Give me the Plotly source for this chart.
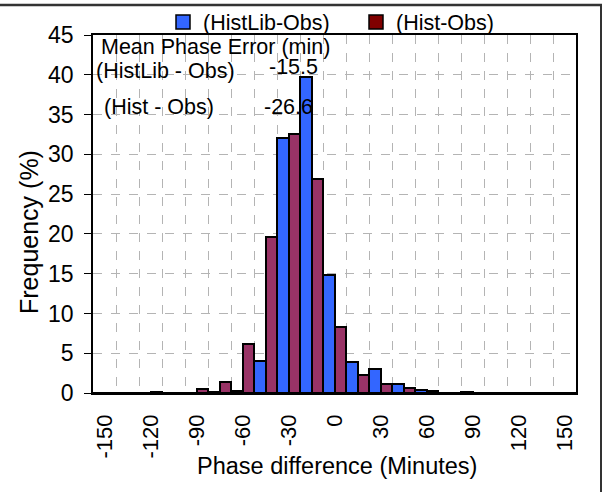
import plotly.graph_objects as go

# ---- data ----
categories = [-150, -135, -120, -105, -90, -75, -60, -45, -30, -15, 0, 15, 30, 45, 60, 75, 90, 105, 120, 135, 150]
histlib_obs = [0, 0, 0, 0, 0, 0.1, 0.3, 4.0, 32.1, 39.7, 14.8, 3.9, 3.0, 1.1, 0.4, 0, 0.1, 0, 0, 0, 0]
hist_obs = [0, 0, 0.15, 0, 0.45, 1.35, 6.2, 19.6, 32.6, 26.9, 8.3, 2.3, 1.1, 0.65, 0.3, 0, 0, 0, 0, 0, 0]
x_tick_vals = [-150, -120, -90, -60, -30, 0, 30, 60, 90, 120, 150]
x_tick_text = ["-150", "-120", "-90", "-60", "-30", "0", "30", "60", "90", "120", "150"]
y_tick_vals = [0, 5, 10, 15, 20, 25, 30, 35, 40, 45]
series_names = ["(HistLib-Obs)", "(Hist-Obs)"]
mean_errors = ["-15.5", "-26.6"]

FONT = "Liberation Sans, Arial, sans-serif"
BLUE = "#3366FF"
PLUM = "#993366"
MAROON = "#800000"

fig = go.Figure()
fig.add_trace(go.Bar(x=categories, y=histlib_obs, name=series_names[0], marker=dict(color=BLUE, line=dict(color="black", width=2)), showlegend=False))
fig.add_trace(go.Bar(x=categories, y=hist_obs, name=series_names[1], marker=dict(color=PLUM, line=dict(color="black", width=2)), showlegend=False))
# legend entries
fig.add_trace(go.Scatter(x=[None], y=[None], mode="markers", name=series_names[0],
                         marker=dict(symbol="square", size=14, color=BLUE, line=dict(color="black", width=1.5))))
fig.add_trace(go.Scatter(x=[None], y=[None], mode="markers", name=series_names[1],
                         marker=dict(symbol="square", size=14, color=MAROON, line=dict(color="black", width=1.5))))

L, R, T, B = 93, 32, 35, 99
W, H = 608, 492
pw, ph = W - L - R, H - T - B

def px(x):
    return (x - L) / pw

def py(y):
    return (H - B - y) / ph

fig.update_layout(
    width=W, height=H,
    margin=dict(l=L, r=R, t=T, b=B, autoexpand=False),
    paper_bgcolor="white", plot_bgcolor="white",
    font=dict(family=FONT, size=21.5, color="black"),
    barmode="group", bargap=0, bargroupgap=0,
    legend=dict(orientation="h", x=px(163), xanchor="left", y=py(22), yanchor="middle",
                entrywidth=148, bgcolor="rgba(0,0,0,0)", font=dict(size=21.5)),
    xaxis=dict(range=[-157.5, 157.5], tickmode="array", tickvals=x_tick_vals, ticktext=x_tick_text,
               tickangle=-90, ticks="", showgrid=False, zeroline=False,
               showline=True, linecolor="black", linewidth=1.5, mirror=True,
               ticklabelstandoff=11, tickfont=dict(size=22),
               minor=dict(tick0=-157.5, dtick=15, showgrid=True, gridcolor="#b4b4b4",
                          griddash="dash", gridwidth=1, ticks="")),
    yaxis=dict(range=[0, 45], tickmode="array", tickvals=y_tick_vals,
               ticks="outside", ticklen=7, tickcolor="black", tickwidth=1,
               showgrid=True, gridcolor="#b4b4b4", griddash="dash", gridwidth=1,
               zeroline=False, showline=True, linecolor="black", linewidth=1.5, mirror=True,
               ticklabelstandoff=6, tickfont=dict(size=23)),
)

ann = [
    dict(text="Mean Phase Error (min)", x=px(99), y=py(47), xanchor="left", yanchor="middle", size=21.5),
    dict(text="(HistLib - Obs)", x=px(94), y=py(71), xanchor="left", yanchor="middle", size=21.5),
    dict(text=mean_errors[0], x=px(267), y=py(67), xanchor="left", yanchor="middle", size=21.5),
    dict(text="(Hist - Obs)", x=px(102), y=py(107), xanchor="left", yanchor="middle", size=21.5),
    dict(text=mean_errors[1], x=px(262), y=py(107), xanchor="left", yanchor="middle", size=21.5),
    dict(text="Frequency (%)", x=px(29), y=py(232), xanchor="center", yanchor="middle", textangle=-90, size=25),
    dict(text="Phase difference (Minutes)", x=px(337), y=py(466), xanchor="center", yanchor="middle", size=23.5),
]
for a in ann:
    s = a.pop("size")
    fig.add_annotation(xref="paper", yref="paper", showarrow=False, font=dict(family=FONT, size=s, color="black"), **a)

# outer chart frame (top and right edges visible)
fig.add_shape(type="line", xref="paper", yref="paper", x0=px(0), y0=py(5), x1=px(602), y1=py(5),
              line=dict(color="#333333", width=2.5), layer="above")
fig.add_shape(type="line", xref="paper", yref="paper", x0=px(601), y0=py(5), x1=px(601), y1=py(492),
              line=dict(color="#333333", width=2), layer="above")

fig.write_html("out.html", config={"displayModeBar": False},
               post_script="document.body.style.margin='0';")
